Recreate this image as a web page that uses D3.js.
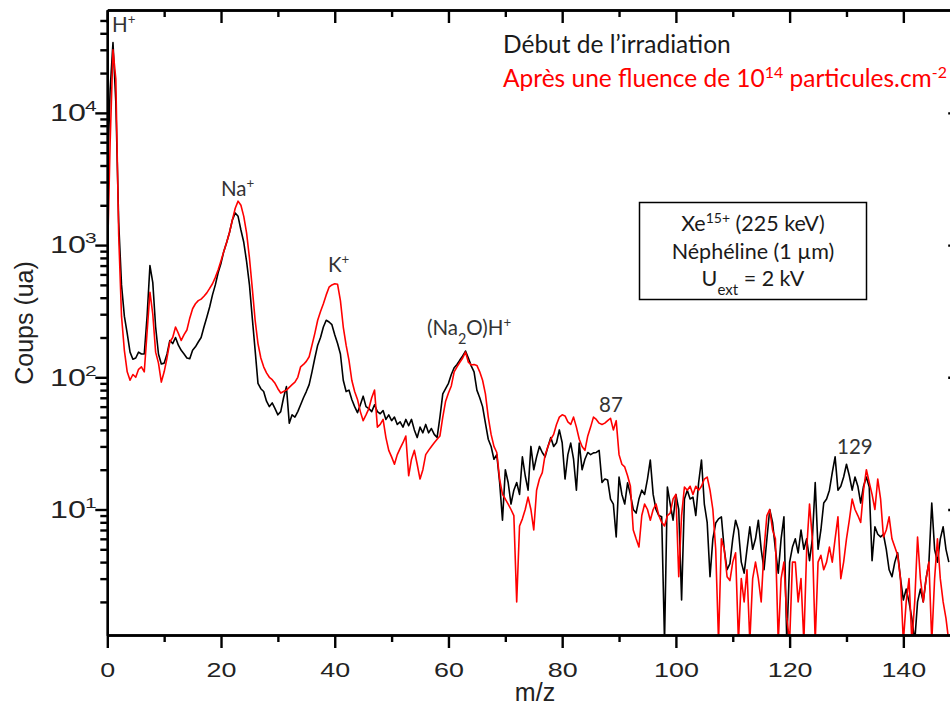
<!DOCTYPE html>
<html>
<head>
<meta charset="utf-8">
<script src="https://cdn.jsdelivr.net/npm/d3@7"></script>
<style>
body { margin: 0; background: #fff; }
svg { display: block; }
.ax path, .ax line { stroke: #000; stroke-width: 2.4; }
.ax text { font-family: "Liberation Sans", Arial, sans-serif; font-size: 21px; fill: #222; }
.ann { font-family: Lato, "Open Sans", sans-serif; }
</style>
</head>
<body>
<svg id="chart"></svg>
<script>
// spectra sampled every 0.5 m/z, starting at m/z = 0
var mzStep = 0.5;

// black: "Début de l'irradiation"
var debut = [
  3000, 15000, 34000, 12000, 1500, 500, 290, 215, 155, 137,
  140, 155, 150, 150, 290, 700, 520, 240, 150, 126,
  128, 150, 190, 180, 200, 175, 160, 150, 140, 138,
  160, 170, 185, 200, 240, 285, 340, 420, 500, 620,
  730, 900, 1050, 1250, 1550, 1750, 1650, 1300, 1050, 750,
  500, 280, 160, 90, 82, 78, 66, 60, 64, 58,
  52, 55, 70, 85, 45, 52, 50, 55, 62, 70,
  78, 88, 110, 140, 175, 200, 240, 270, 262, 250,
  210, 180, 150, 95, 78, 80, 68, 60, 54, 62,
  72, 60, 58, 55, 62, 55, 53, 56, 48, 52,
  47, 50, 44, 46, 42, 48, 43, 48, 40, 35,
  42, 38, 44, 38, 41, 37, 35, 50, 75, 82,
  90, 105, 118, 125, 135, 145, 158, 140, 122, 110,
  80, 70, 60, 45, 34, 30, 24, 26, 16, 8.3,
  20, 16, 11, 14, 16, 13, 25, 18, 14, 30,
  20, 25, 30, 27, 25, 30, 35, 30, 32, 40,
  32, 17, 26, 31.8, 24, 14, 31.8, 20, 24, 27,
  26, 26.8, 27, 28, 16, 17, 16.7, 12, 11, 6.2,
  17.6, 13, 11, 15.9, 13, 10, 9.4, 12, 14, 13,
  17, 23.7, 13, 10, 9, 8.8, 1, 14.8, 11, 8.3,
  13, 10, 2.07, 12, 14, 12, 12.4, 9, 16, 23.7,
  11, 8, 3.1, 6, 7.9, 8.5, 8.8, 5, 3.5, 3.9,
  6, 8.3, 7, 4, 3.3, 5, 7.4, 5, 6, 8.3,
  5, 3.5, 6, 10, 8, 5, 3.3, 6, 8.8, 1,
  4, 5.2, 6, 4.7, 7, 5, 6, 4.1, 6, 16,
  5, 7, 11.2, 12, 14, 19, 25, 14, 15, 17.6,
  22, 18, 14, 17.6, 15, 11.2, 15, 17.6, 14.8, 4.1,
  7.4, 6.5, 6.2, 6.5, 5, 3.5, 3.1, 4, 4.7, 3,
  2.07, 2.5, 2, 1.5, 1, 2, 2.5, 2, 3, 4,
  11.2, 5, 4, 6, 7.4, 5, 4
];

// red: after a fluence of 1e14 particles/cm2
var apres = [
  700, 6000, 30000, 18000, 1200, 290, 160, 110, 95, 105,
  100, 115, 120, 110, 220, 440, 300, 155, 128, 92,
  110, 140, 185, 200, 240, 215, 190, 210, 228, 280,
  330, 360, 380, 390, 410, 435, 470, 510, 570, 650,
  760, 900, 1050, 1250, 1550, 1900, 2150, 2000, 1650, 1230,
  800, 470, 270, 180, 140, 120, 108, 100, 96, 90,
  82, 76, 78, 80, 84, 88, 92, 100, 120, 125,
  132, 143, 175, 215, 270, 315, 360, 420, 480, 500,
  510, 505, 380, 240, 175, 135, 95, 78, 68, 55,
  47, 52, 58, 70, 80, 42, 44, 48, 35, 28,
  25, 22, 26, 29, 32, 36, 18, 24, 28, 22,
  17, 20, 26, 28, 30, 32, 34, 36, 50, 66,
  76, 86, 110, 120, 130, 140, 155, 130, 124, 125,
  123, 110, 95, 75, 50, 37, 30, 27, 17, 13,
  12, 11, 10, 9, 2, 7.5, 8.5, 10, 12.4, 10,
  7, 14, 17, 19, 26, 30, 34, 37, 44, 50,
  52, 51, 46, 44, 50, 42, 34, 30, 28, 36,
  42, 50, 48, 45, 44, 45, 47, 49, 40, 47,
  26, 22, 21, 18, 15, 7, 6, 5.2, 9, 11,
  10, 8.3, 10, 11, 9, 8, 7.5, 9, 9.4, 12,
  13, 3.1, 9, 14.8, 14, 15, 13, 15, 14, 15,
  17, 17.6, 14, 10, 5, 1, 6, 5, 3.1, 2.9,
  4, 4.7, 1, 3, 2, 3.5, 1, 3, 4, 3,
  2, 5, 9, 10, 7, 6, 1, 3, 4, 1.5,
  1, 4, 4, 2, 3, 1, 5, 11, 6, 1,
  4, 4.5, 3.5, 4, 5.2, 4, 6, 8.8, 3, 4,
  6, 8.3, 12, 10, 9, 8, 14, 20, 16, 13,
  10, 17, 12, 6.2, 7, 8.8, 6, 5.2, 4.5, 3,
  1, 2, 3, 1, 2, 6.2, 3, 2, 3, 4,
  1, 3, 6, 3, 2, 1.5, 1
];

var xMajor = [0, 20, 40, 60, 80, 100, 120, 140];
var xMinor = [10, 30, 50, 70, 90, 110, 130, 150];
var yMajor = [10, 100, 1000, 10000];
var yExp = ["1", "2", "3", "4"];

var W = 950, H = 706;
var padL = 107.3, padR = 960.2, padT = 10, padB = 635;

var svg = d3.select("#chart").attr("width", W).attr("height", H);

var x = d3.scaleLinear().domain([0, 150]).range([padL, padR]);
var y = d3.scaleLog().domain([1.124, 60000]).range([padB, padT]);

var yMinor = [];
[1, 10, 100, 1000, 10000].forEach(function (p) {
  for (var k = 2; k <= 9; k++) {
    var v = k * p;
    if (v > y.domain()[0] && v < y.domain()[1]) yMinor.push(v);
  }
});

svg.append("clipPath").attr("id", "plot")
  .append("rect").attr("x", padL).attr("y", padT)
  .attr("width", padR - padL).attr("height", padB - padT);

var line = d3.line()
  .x(function (d, i) { return x(i * mzStep); })
  .y(function (d) { return y(d); });

var plot = svg.append("g").attr("clip-path", "url(#plot)");
plot.append("path").datum(debut)
  .attr("fill", "none").attr("stroke", "#000").attr("stroke-width", 1.6)
  .attr("stroke-linejoin", "round").attr("d", line);
plot.append("path").datum(apres)
  .attr("fill", "none").attr("stroke", "#ff0000").attr("stroke-width", 1.6)
  .attr("stroke-linejoin", "round").attr("d", line);

// bottom axis
svg.append("g").attr("class", "ax").attr("transform", "translate(0," + padB + ")")
  .call(d3.axisBottom(x).tickValues(xMinor).tickSize(7).tickFormat("").tickSizeOuter(0));
var xb = svg.append("g").attr("class", "ax").attr("transform", "translate(0," + padB + ")")
  .call(d3.axisBottom(x).tickValues(xMajor).tickSize(13).tickSizeOuter(0));
// the source figure's labels are a bit wider than the font
xb.selectAll("text").attr("dy", 0).attr("y", 41.7).attr("transform", "scale(1.28,1)");

// top axis, ticks inward
svg.append("g").attr("class", "ax").attr("transform", "translate(0," + padT + ")")
  .call(d3.axisBottom(x).tickValues(xMinor).tickSize(7).tickFormat("").tickSizeOuter(0));
svg.append("g").attr("class", "ax").attr("transform", "translate(0," + padT + ")")
  .call(d3.axisBottom(x).tickValues(xMajor).tickSize(13).tickFormat("").tickSizeOuter(0));

// left axis
svg.append("g").attr("class", "ax").attr("transform", "translate(" + padL + ",0)")
  .call(d3.axisLeft(y).tickValues(yMinor).tickSize(7).tickFormat("").tickSizeOuter(0));
svg.append("g").attr("class", "ax").attr("transform", "translate(" + padL + ",0)")
  .call(d3.axisLeft(y).tickValues(yMajor).tickSize(12).tickFormat("").tickSizeOuter(0));

// right axis, ticks inward (mostly off-canvas)
svg.append("g").attr("class", "ax").attr("transform", "translate(" + padR + ",0)")
  .call(d3.axisLeft(y).tickValues(yMajor).tickSize(12).tickFormat("").tickSizeOuter(0));

// y tick labels 10^n
yMajor.forEach(function (v, i) {
  var t = svg.append("g")
    .attr("transform", "translate(50," + (y(v) + 8.4) + ") scale(1.4,1)")
    .append("text")
    .style("font-family", '"Liberation Sans", Arial, sans-serif')
    .style("font-size", "23px").style("fill", "#222");
  t.append("tspan").text("10");
  t.append("tspan").attr("x", 25).attr("dy", -10).style("font-size", "15px").text(yExp[i]);
});

// axis titles
svg.append("text")
  .attr("transform", "translate(33,323) rotate(-90)")
  .attr("text-anchor", "middle")
  .style("font-family", '"Liberation Sans", Arial, sans-serif')
  .style("font-size", "25px").style("fill", "#222")
  .text("Coups (ua)");
svg.append("text")
  .attr("x", 535).attr("y", 701).attr("text-anchor", "middle")
  .style("font-family", '"Liberation Sans", Arial, sans-serif')
  .style("font-size", "25px").style("fill", "#222")
  .text("m/z");

// rich text helper
function rich(px, py, size, color, anchor, parts) {
  var t = svg.append("text").attr("class", "ann")
    .attr("x", px).attr("y", py).attr("text-anchor", anchor)
    .style("font-size", size + "px").style("fill", color);
  parts.forEach(function (p) {
    var s = t.append("tspan").text(p[0]);
    if (p[1] === "sup") s.attr("baseline-shift", "super").style("font-size", (size * 0.65) + "px");
    if (p[1] === "sub") s.attr("baseline-shift", "sub").style("font-size", (size * 0.7) + "px");
  });
  return t;
}

// legend text
rich(503, 53, 24.5, "#1a1a1a", "start", [["Début de l\u2019irradiation"]]);
rich(503, 87, 24.5, "#ff0000", "start", [["Après une fluence de 10"], ["14", "sup"], [" particules.cm"], ["-2", "sup"]]);

// info box
svg.append("rect").attr("x", 639.5).attr("y", 202.5).attr("width", 227).attr("height", 97)
  .attr("fill", "none").attr("stroke", "#000").attr("stroke-width", 1.5);
rich(753, 231, 21.5, "#1a1a1a", "middle", [["Xe"], ["15+", "sup"], [" (225 keV)"]]);
rich(753, 259, 21.5, "#1a1a1a", "middle", [["Néphéline (1 µm)"]]);
rich(753, 286, 21.5, "#1a1a1a", "middle", [["U"], ["ext", "sub"], [" = 2 kV"]]);

// peak labels
rich(112, 32, 20.5, "#333", "start", [["H"], ["+", "sup"]]);
rich(221, 196, 20.5, "#333", "start", [["Na"], ["+", "sup"]]);
rich(328, 272, 20.5, "#333", "start", [["K"], ["+", "sup"]]);
rich(427, 335, 20.5, "#333", "start", [["(Na"], ["2", "sub"], ["O)H"], ["+", "sup"]]);
rich(599, 412, 20.5, "#333", "start", [["87"]]);
rich(837, 454, 20.5, "#333", "start", [["129"]]);
</script>
</body>
</html>
